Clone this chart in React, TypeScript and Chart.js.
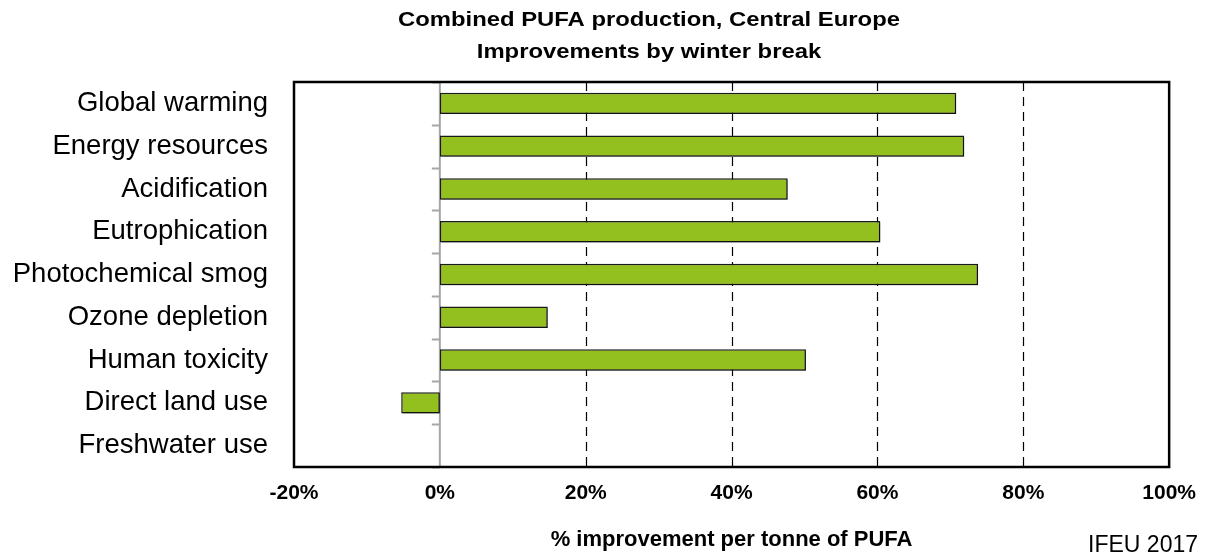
import React, { useEffect, useRef } from 'react';
import { Chart, registerables } from 'chart.js';

Chart.register(...registerables);

const categories = [
  'Global warming',
  'Energy resources',
  'Acidification',
  'Eutrophication',
  'Photochemical smog',
  'Ozone depletion',
  'Human toxicity',
  'Direct land use',
  'Freshwater use',
];
const improvements = [70.8, 71.9, 47.7, 60.4, 73.8, 14.8, 50.2, -5.3, 0];
const xTicks = [-20, 0, 20, 40, 60, 80, 100];
const titleLines = ['Combined PUFA production, Central Europe', 'Improvements by winter break'];
const xTitle = '% improvement per tonne of PUFA';
const sourceNote = 'IFEU 2017';

const FONT = '"Liberation Sans", Arial, Helvetica, sans-serif';

const decorPlugin = {
  id: 'decor',
  beforeDatasetsDraw(chart: any) {
    const { ctx, chartArea, scales } = chart;
    const x = scales.x;
    const y = scales.y;
    ctx.save();
    ctx.strokeStyle = '#000';
    ctx.lineWidth = 1.2;
    ctx.setLineDash([9, 6]);
    xTicks.forEach((v) => {
      if (v === 0 || v === xTicks[0] || v === xTicks[xTicks.length - 1]) return;
      const px = Math.round(x.getPixelForValue(v)) + 0.5;
      ctx.beginPath();
      ctx.moveTo(px, chartArea.top);
      ctx.lineTo(px, chartArea.bottom);
      ctx.stroke();
    });
    ctx.setLineDash([]);
    const zx = x.getPixelForValue(0);
    ctx.strokeStyle = '#a6a6a6';
    ctx.lineWidth = 2;
    ctx.beginPath();
    ctx.moveTo(zx, chartArea.top);
    ctx.lineTo(zx, chartArea.bottom);
    ctx.stroke();
    for (let i = 0; i <= categories.length; i++) {
      const py = Math.round(y.getPixelForValue(i - 0.5)) + 0.5;
      ctx.beginPath();
      ctx.moveTo(zx - 8, py);
      ctx.lineTo(zx, py);
      ctx.stroke();
    }
    ctx.restore();
    ctx.save();
    ctx.shadowColor = 'rgba(0,0,0,0.35)';
    ctx.shadowOffsetX = 1.5;
    ctx.shadowOffsetY = 1.5;
    ctx.shadowBlur = 0;
  },
  afterDatasetsDraw(chart: any) {
    chart.ctx.restore();
  },
  afterDraw(chart: any) {
    const { ctx, chartArea } = chart;
    ctx.save();
    ctx.strokeStyle = '#000';
    ctx.lineWidth = 2.5;
    ctx.strokeRect(chartArea.left, chartArea.top, chartArea.right - chartArea.left, chartArea.bottom - chartArea.top);
    ctx.fillStyle = '#000';
    ctx.textAlign = 'center';
    ctx.textBaseline = 'alphabetic';
    ctx.font = `bold 20px ${FONT}`;
    const w0 = ctx.measureText(titleLines[0]).width;
    const sx = 502 / w0;
    ctx.save();
    ctx.translate(649, 0);
    ctx.scale(sx, 1);
    ctx.fillText(titleLines[0], 0, 26);
    ctx.fillText(titleLines[1], 0, 58);
    ctx.restore();
    ctx.textAlign = 'right';
    ctx.font = `23px ${FONT}`;
    ctx.fillText(sourceNote, 1198, 552);
    ctx.restore();
  },
};

export default function App() {
  const ref = useRef<HTMLCanvasElement>(null);
  useEffect(() => {
    document.body.style.margin = '0';
    const canvas = ref.current!;
    const chart = new Chart(canvas, {
      type: 'bar',
      data: {
        labels: categories,
        datasets: [
          {
            data: improvements,
            backgroundColor: '#93c01f',
            borderColor: '#1a1a1a',
            borderWidth: (c: any) => (c.raw === 0 ? 0 : 1.5),
            borderSkipped: false,
            barPercentage: 0.5,
            categoryPercentage: 1,
          },
        ],
      },
      options: {
        indexAxis: 'y',
        animation: false,
        responsive: false,
        maintainAspectRatio: false,
        layout: { padding: { top: 82, right: 37, bottom: 0, left: 0 } },
        plugins: { legend: { display: false }, tooltip: { enabled: false }, title: { display: false } },
        scales: {
          x: {
            min: -20,
            max: 100,
            afterBuildTicks: (s: any) => {
              s.ticks = xTicks.map((v) => ({ value: v }));
            },
            afterFit: (s: any) => {
              s.height = 90;
            },
            grid: { display: false, drawTicks: false },
            border: { display: false },
            ticks: {
              padding: 14,
              color: '#000',
              font: { family: FONT, size: 21, weight: 'bold' },
              callback: (v: any) => `${v}%`,
              maxRotation: 0,
            },
            title: {
              display: true,
              text: xTitle,
              color: '#000',
              font: { family: FONT, size: 22, weight: 'bold' },
              padding: { top: 0, bottom: 4 },
            },
          },
          y: {
            afterFit: (s: any) => {
              s.width = 294;
            },
            grid: { display: false, drawTicks: false },
            border: { display: false },
            ticks: {
              padding: 26,
              color: '#000',
              font: { family: FONT, size: 27.5 },
              autoSkip: false,
            },
          },
        },
      },
      plugins: [decorPlugin],
    } as any);
    return () => chart.destroy();
  }, []);
  return (
    <div style={{ position: 'absolute', left: 0, top: 0, width: 1210, height: 557 }}>
      <canvas ref={ref} width={1210} height={557} style={{ display: 'block', width: 1210, height: 557 }} />
    </div>
  );
}
